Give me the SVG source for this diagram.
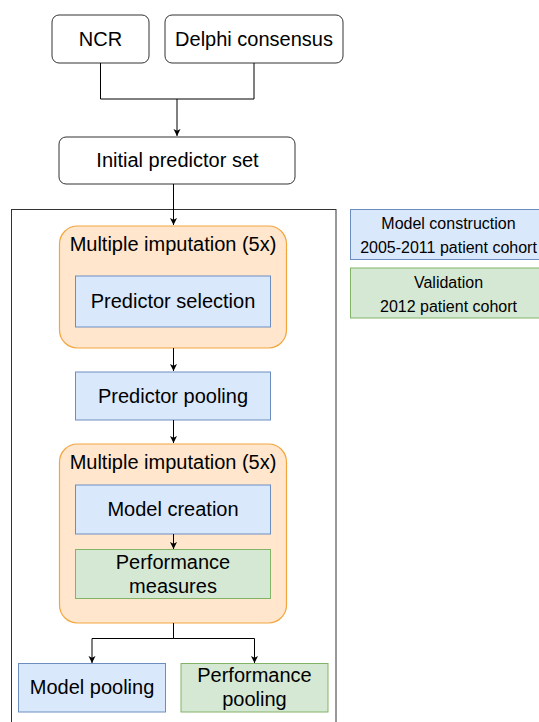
<svg xmlns="http://www.w3.org/2000/svg" width="539" height="722" viewBox="0 0 539 722">
<defs>
<marker id="arr" markerWidth="8" markerHeight="8" refX="7" refY="4" orient="auto" markerUnits="userSpaceOnUse">
<path d="M0,0.5 L7,4 L0,7.5 L1.8,4 Z" fill="#000"/>
</marker>
</defs>
<style>
text{font-family:"Liberation Sans",Arial,sans-serif;fill:#000;text-anchor:middle}
.t{font-size:20px}
.s{font-size:16px}
.w{fill:#fff;stroke:#333;stroke-width:1}
.b{fill:#dae8fc;stroke:#6c8ebf;stroke-width:1}
.g{fill:#d5e8d4;stroke:#82b366;stroke-width:1}
.o{fill:#ffe6cc;stroke:#f2a640;stroke-width:1.2}
.c{fill:none;stroke:#000;stroke-width:1}
</style>
<rect id="outer" x="11.5" y="209.5" width="324.5" height="520" fill="#fff" stroke="#333" stroke-width="1"/>
<g id="ncr"><rect class="w" x="52" y="15" width="97" height="48" rx="7"/><text class="t" x="100.5" y="46">NCR</text></g>
<g id="delphi"><rect class="w" x="165" y="15" width="178" height="48" rx="7"/><text class="t" x="254" y="46">Delphi consensus</text></g>
<g id="initial"><rect class="w" x="59" y="137" width="236" height="47" rx="7"/><text class="t" x="177.5" y="167">Initial predictor set</text></g>
<g id="mi1"><rect class="o" x="59.5" y="226" width="227" height="122" rx="18"/><text class="t" x="173" y="251">Multiple imputation (5x)</text></g>
<g id="predsel"><rect class="b" x="75.5" y="276" width="195" height="51"/><text class="t" x="173" y="308">Predictor selection</text></g>
<g id="predpool"><rect class="b" x="75.5" y="372" width="195" height="48"/><text class="t" x="173" y="403">Predictor pooling</text></g>
<g id="mi2"><rect class="o" x="59.5" y="444" width="227" height="179" rx="18"/><text class="t" x="173" y="469">Multiple imputation (5x)</text></g>
<g id="modelcreation"><rect class="b" x="75.5" y="485" width="195" height="49"/><text class="t" x="173" y="516">Model creation</text></g>
<g id="perfmeas"><rect class="g" x="75.5" y="549.5" width="195" height="49"/><text class="t" x="173" y="569">Performance</text><text class="t" x="173" y="593">measures</text></g>
<g id="modelpool"><rect class="b" x="18.5" y="663.5" width="147" height="48.5"/><text class="t" x="92" y="694">Model pooling</text></g>
<g id="perfpool"><rect class="g" x="181" y="663.5" width="147" height="48.5"/><text class="t" x="254.5" y="682">Performance</text><text class="t" x="254.5" y="706">pooling</text></g>
<g id="legend-construction"><rect class="b" x="350.5" y="209.5" width="198" height="50"/><text class="s" x="448.5" y="229">Model construction</text><text class="s" x="448.5" y="253">2005-2011 patient cohort</text></g>
<g id="legend-validation"><rect class="g" x="350.5" y="268" width="198" height="50"/><text class="s" x="448.5" y="287.5">Validation</text><text class="s" x="448.5" y="312">2012 patient cohort</text></g>
<g id="connectors">
<path class="c" d="M100.5,63 V99 H254 V63"/>
<path class="c" d="M177,99 V136" marker-end="url(#arr)"/>
<path class="c" d="M173.5,184 V225" marker-end="url(#arr)"/>
<path class="c" d="M173.5,348 V371" marker-end="url(#arr)"/>
<path class="c" d="M173.5,420 V443" marker-end="url(#arr)"/>
<path class="c" d="M173.5,534 V549" marker-end="url(#arr)"/>
<path class="c" d="M173.5,623 V638.5 H92 V663" marker-end="url(#arr)"/>
<path class="c" d="M173.5,638.5 H254.5 V663" marker-end="url(#arr)"/>
</g>
</svg>
